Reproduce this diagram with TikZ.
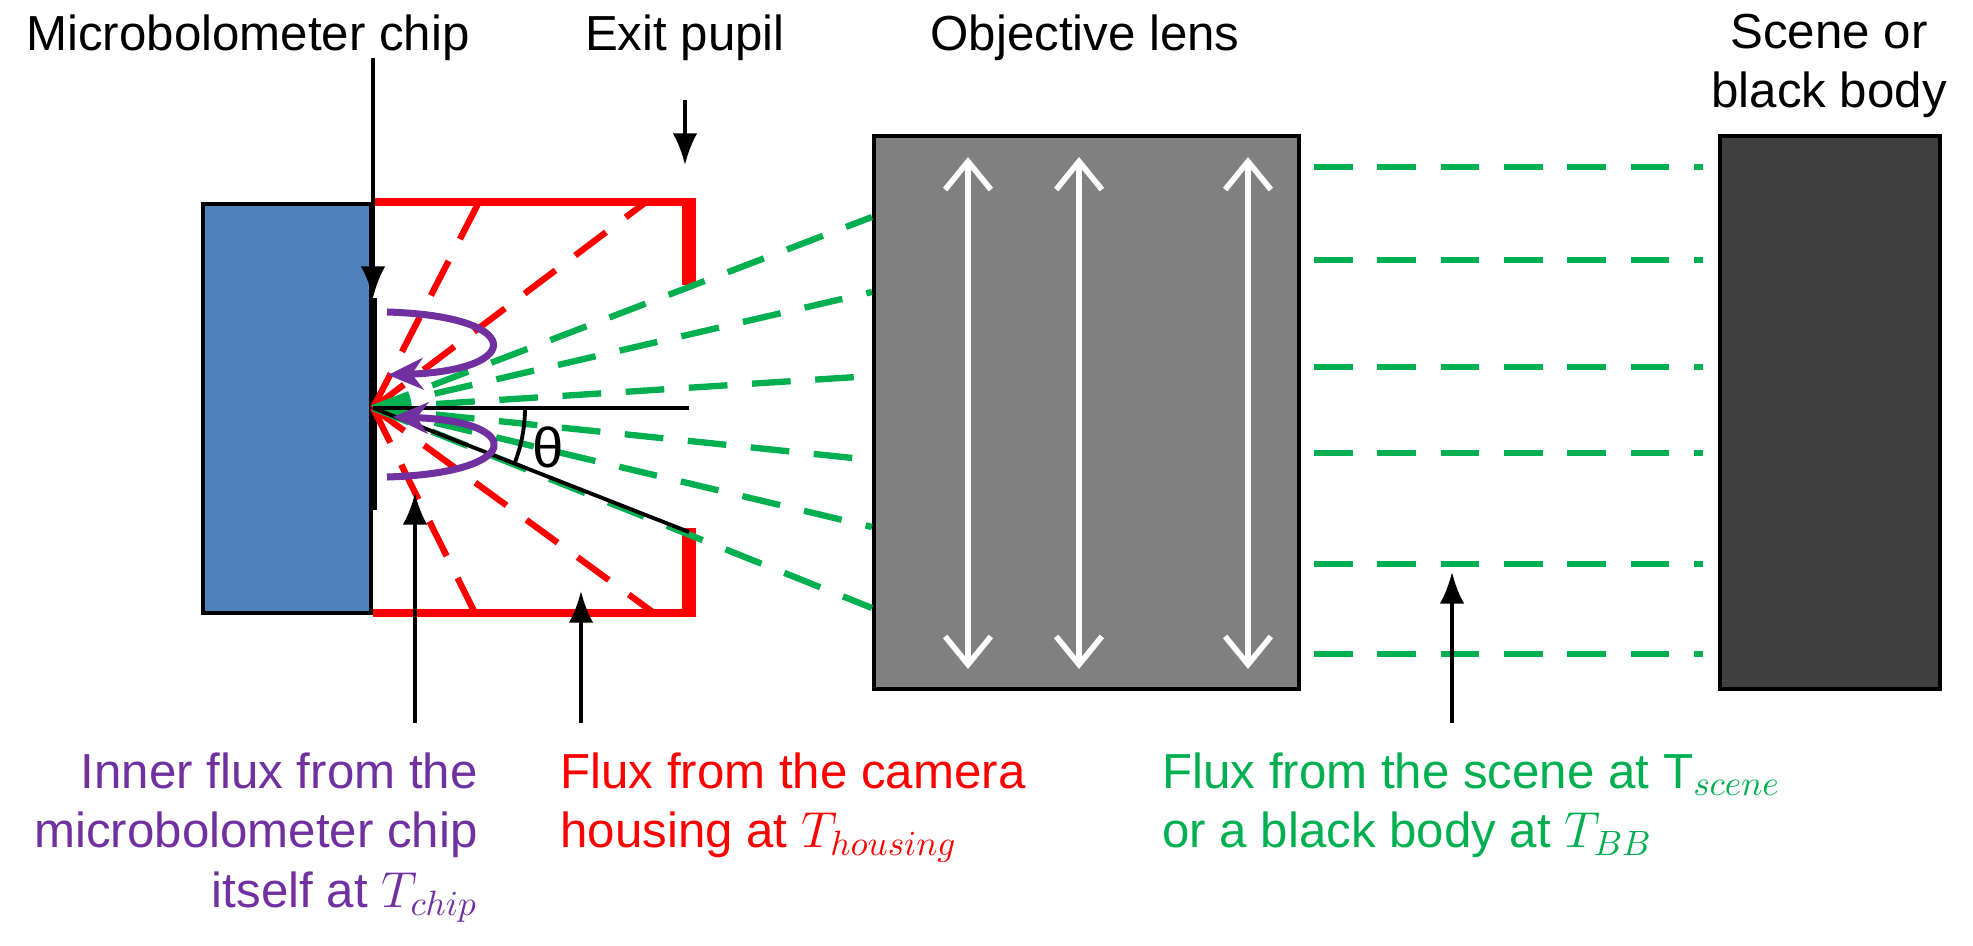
\documentclass[tikz,border=0pt]{standalone}
\usepackage{fontspec}
\setmainfont{Liberation Sans}
\usetikzlibrary{arrows.meta,calc}
\definecolor{chipblue}{HTML}{4F81BD}
\definecolor{flxgreen}{HTML}{00B050}
\definecolor{flxpurple}{HTML}{7030A0}
\tikzset{
  lbl/.style={font=\fontsize{14}{17}\selectfont, align=center},
  pointer/.style={-{Latex[length=9pt,width=7pt]}, line width=1.1pt},
  redray/.style={red, dashed, line width=1.8pt, dash pattern=on 11pt off 7pt},
  greenray/.style={flxgreen, dashed, line width=1.8pt, dash pattern=on 11pt off 7pt},
  whitearr/.style={white, line width=1.6pt, {Straight Barb[length=8pt,width=13pt]}-{Straight Barb[length=8pt,width=13pt]}},
  loop/.style={flxpurple, line width=2pt, -{Stealth[length=10pt,width=9pt]}}
}
\begin{document}
\begin{tikzpicture}[x=0.01cm,y=-0.01cm]
  \useasboundingbox (0,0) rectangle (1973,946);
  % Chip, lens and scene
  \node[draw, line width=1.1pt, fill=chipblue, minimum width=1.68cm, minimum height=4.09cm, inner sep=0] (chip) at (287,408.5) {};
  \node[draw, line width=1.1pt, fill=black!50, minimum width=4.25cm, minimum height=5.53cm, inner sep=0] (lens) at (1086.5,412.5) {};
  \node[draw, line width=1.1pt, fill=black!75, minimum width=2.2cm, minimum height=5.53cm, inner sep=0] (scene) at (1830,412.5) {};
  \coordinate (O) at (373,408);
  \draw[line width=2.5pt] (373,298) -- (373,510);

  % Housing and exit pupil
  \draw[red, line width=2.2pt] (373,202) -- (696,202);
  \draw[red, line width=2.2pt] (373,613) -- (696,613);
  \fill[red] (682,202) rectangle (696,285);
  \fill[red] (682,528) rectangle (696,613);
  \foreach \x/\y in {479/202, 646/202, 475/613, 654/613}
    \draw[redray] (O) -- (\x,\y);

  % Scene rays
  \foreach \y in {217,292,376,460,527,608}
    \draw[greenray] (O) -- (lens.west |- 0,\y);
  \foreach \y in {167,260,367,453,564,654}
    \draw[greenray] (1314,\y) -- (1703,\y);
  \foreach \x in {968,1079,1248}
    \draw[whitearr] (\x,157) -- (\x,669);

  % Angle
  \coordinate (hz) at (689,408);
  \coordinate (edge) at (689,532);
  \draw[line width=1.1pt] (O) -- (hz);
  \draw[line width=1.1pt] (O) -- (edge);
  \draw[line width=1.1pt] ($(O)+(152,0)$) arc[start angle=0, end angle=21.4, radius=152];
  \node[lbl, font=\fontsize{16}{18}\selectfont] (theta) at (548,447) {θ};

  % Chip self flux
  \draw[loop] (387,312) .. controls (525,316) and (525,370) .. (388,375);
  \draw[loop] (387,477) .. controls (525,473) and (525,421) .. (393,417);

  % Labels
  \node[lbl] (lchip) at (248,38) {Microbolometer chip};
  \node[lbl] (lpupil) at (685,38) {Exit pupil};
  \node[lbl] (llens) at (1085,38) {Objective lens};
  \node[lbl] (lscene) at (1829,66) {Scene or\\black body};
  \coordinate (pchip) at (373,298);
  \coordinate (ppupil) at (685,165);
  \draw[pointer] (373,58) -- (pchip);
  \draw[pointer] (685,100) -- (ppupil);

  \node[lbl, flxpurple, align=right, anchor=north east] (tchip) at (490,740) {Inner flux from the\\microbolometer chip\\itself at $T_{chip}$};
  \node[lbl, red, align=left, anchor=north west] (thousing) at (548,740) {Flux from the camera\\housing at $T_{housing}$};
  \node[lbl, flxgreen, align=left, anchor=north west] (tscene) at (1150,740) {Flux from the scene at $\mathrm{T}_{scene}$\\or a black body at $T_{BB}$};
  \draw[pointer] (415,723) -- (415,493);
  \draw[pointer] (581,723) -- (581,591);
  \draw[pointer] (1452,723) -- (1452,572);
\end{tikzpicture}
\end{document}
